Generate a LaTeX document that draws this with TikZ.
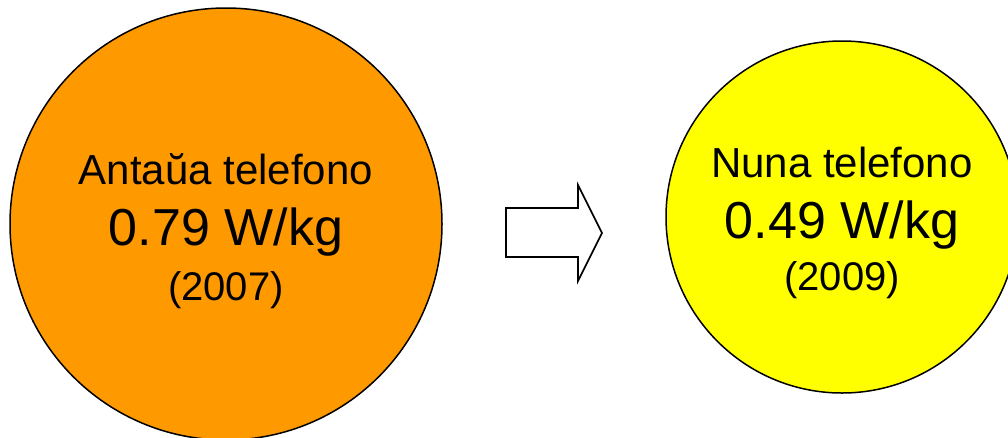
\documentclass[tikz,border=0pt]{standalone}
\usepackage{fontspec}
\setmainfont{Liberation Sans}
\definecolor{oldorange}{HTML}{FF9900}
\definecolor{newyellow}{HTML}{FFFF00}
\tikzset{
  disc/.style={circle, draw=black, line width=1.5pt, inner sep=0pt},
  lineA/.style={anchor=base, inner sep=0pt, font=\fontsize{42}{48}\selectfont},
  lineB/.style={anchor=base, inner sep=0pt, font=\fontsize{52}{60}\selectfont},
  lineC/.style={anchor=base, inner sep=0pt, font=\fontsize{40}{46}\selectfont},
  blockarrow/.style={draw=black, line width=1.6pt, fill=white, line join=miter}
}
\begin{document}
\begin{tikzpicture}[x=1pt, y=-1pt]
\useasboundingbox (0,0) rectangle (1008,437);
\begin{scope}
\clip (0,0) rectangle (1008,437);
\node[disc, fill=oldorange, minimum size=432pt] (old) at (226,224) {};
\node[disc, fill=newyellow, minimum size=352pt] (new) at (842,217) {};
\end{scope}
\node[lineA] (oldname) at (226,184) {Antaŭa telefono};
\node[lineB] (oldsar) at (226,245) {0.79 W/kg};
\node[lineC] (oldyear) at (226,300) {(2007)};
\node[lineA] (newname) at (842,177) {Nuna telefono};
\node[lineB] (newsar) at (842,238) {0.49 W/kg};
\node[lineC] (newyear) at (842,290) {(2009)};
\draw[blockarrow] (506,208) -- (578,208) -- (578,185) -- (602,233) -- (578,281) -- (578,257) -- (506,257) -- cycle;
\end{tikzpicture}
\end{document}
